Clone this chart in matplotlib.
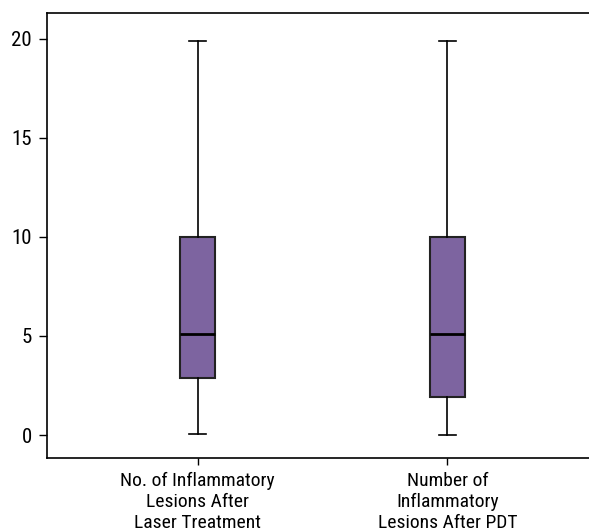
import matplotlib
matplotlib.use("Agg")
import matplotlib.pyplot as plt

plt.rcParams['font.family'] = ['Roboto Condensed', 'DejaVu Sans']

categories = ["No. of Inflammatory\nLesions After\nLaser Treatment",
              "Number of\nInflammatory\nLesions After PDT"]
whislo = [0.05, 0.0]
q1 = [2.9, 1.9]
med = [5.1, 5.1]
q3 = [10.0, 10.0]
whishi = [19.9, 19.9]
yticks = [0, 5, 10, 15, 20]

stats = [dict(label=c, whislo=a, q1=b, med=m, q3=d, whishi=e)
         for c, a, b, m, d, e in zip(categories, whislo, q1, med, q3, whishi)]

fig = plt.figure(figsize=(5.89, 5.32), dpi=100)
ax = fig.add_axes([47/589, 1 - 458/532, 1 - 47/589 + 0.01, (458 - 13)/532])
ax.bxp(stats, positions=[1, 2], widths=0.138, showfliers=False, patch_artist=True,
       boxprops=dict(facecolor='#7d64a0', edgecolor='#222222', linewidth=1.5),
       medianprops=dict(color='black', linewidth=2),
       whiskerprops=dict(color='black', linewidth=1.2),
       capprops=dict(color='black', linewidth=1.2), capwidths=0.066)
ax.set_xlim(0.397, 2.591)
ax.set_ylim(-1.16, 21.3)
ax.set_yticks(yticks)
ax.set_xticks([1, 2])
ax.set_xticklabels(categories, fontsize=14, linespacing=1.2)
ax.tick_params(axis='y', labelsize=15, length=6, width=1, pad=5)
ax.tick_params(axis='x', length=5, width=1, pad=5)
ax.spines['right'].set_visible(False)
for s in ['left', 'top', 'bottom']:
    ax.spines[s].set_linewidth(1.2)
fig.savefig("out.png", dpi=100)
